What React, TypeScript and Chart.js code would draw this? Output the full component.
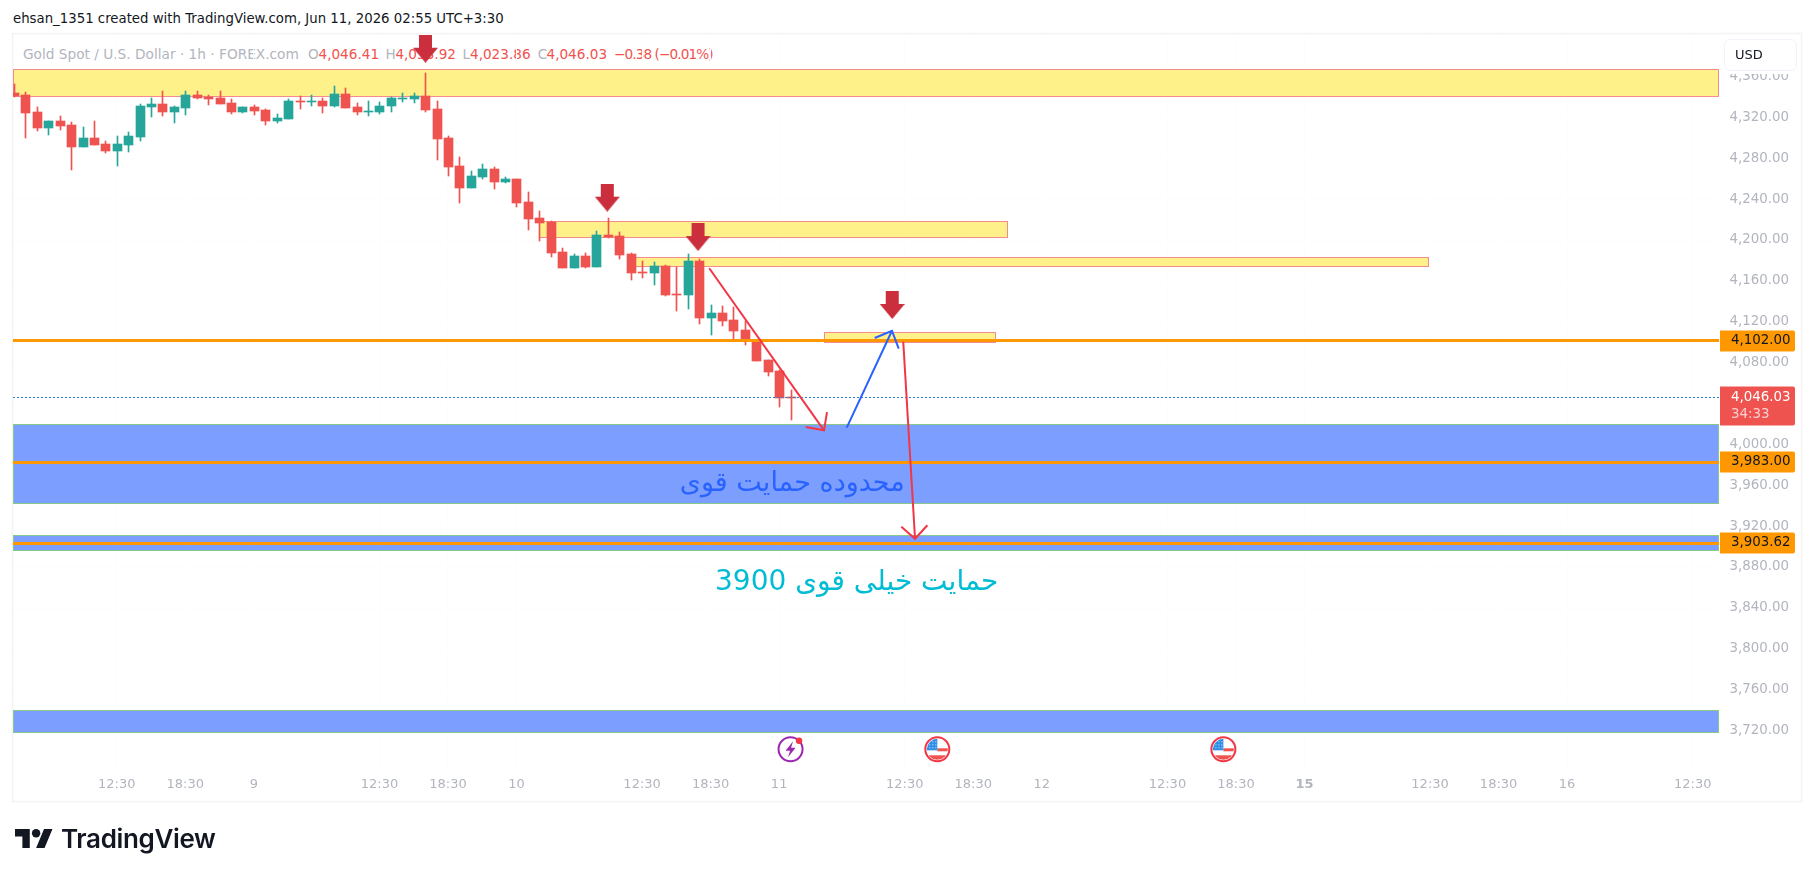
import React, { useEffect, useRef } from "react";
import { Chart, registerables } from "chart.js";

Chart.register(...registerables);

const UI_FONT = "'DejaVu Sans', sans-serif";

// candles: open, high, low, close (index = bar number, 1h)
const opens = [4344.4,4342.4,4325.8,4310.1,4317.0,4313.0,4291.5,4300.3,4294.5,4287.6,4293.5,4301.3,4330.7,4333.6,4325.8,4329.7,4342.4,4340.5,4339.5,4334.6,4325.8,4330.7,4327.7,4317.0,4318.9,4336.5,4335.6,4336.5,4331.6,4343.4,4330.7,4325.8,4325.8,4331.6,4338.5,4338.5,4341.4,4328.7,4300.3,4272.9,4251.4,4262.2,4270.0,4257.3,4260.2,4237.7,4222.0,4218.1,4188.8,4173.1,4184.8,4174.1,4205.4,4204.4,4186.8,4169.2,4168.2,4175.1,4147.6,4146.7,4179.9,4124.2,4129.1,4122.2,4112.4,4102.6,4083.1,4072.3,4046.41];
const highs = [4353.2,4345.4,4330.7,4317.0,4321.9,4316.0,4311.1,4317.0,4297.4,4302.3,4306.2,4333.6,4339.5,4346.3,4331.6,4346.3,4346.3,4342.4,4346.3,4338.5,4330.7,4332.6,4328.7,4323.8,4338.5,4341.4,4342.4,4339.5,4351.2,4349.3,4334.6,4336.5,4335.6,4340.5,4344.4,4344.4,4363.9,4336.5,4302.3,4281.7,4268.0,4274.9,4271.9,4262.2,4260.2,4247.5,4228.9,4219.1,4192.7,4186.8,4187.8,4209.3,4222.0,4208.3,4187.8,4179.9,4179.0,4176.0,4174.1,4186.8,4181.9,4136.9,4135.9,4134.9,4121.2,4102.6,4083.1,4073.3,4053.92];
const lows = [4340.1,4300.3,4307.2,4303.3,4308.2,4269.0,4291.5,4293.5,4285.6,4272.9,4286.6,4297.4,4320.9,4321.9,4315.0,4322.8,4338.5,4332.6,4333.6,4323.8,4324.8,4322.8,4313.0,4315.0,4318.9,4328.7,4331.6,4324.8,4330.7,4329.7,4322.8,4321.9,4323.8,4325.8,4335.6,4334.6,4325.8,4278.8,4263.1,4236.7,4251.4,4260.2,4250.4,4256.3,4232.8,4210.3,4199.5,4183.9,4173.1,4173.1,4173.1,4174.1,4202.5,4181.9,4161.4,4163.3,4156.5,4145.7,4131.0,4133.0,4118.3,4107.5,4116.3,4101.7,4097.7,4082.1,4067.4,4037.1,4023.86];
const closes = [4341.4,4324.8,4310.1,4317.0,4312.1,4291.5,4300.3,4293.5,4287.6,4294.5,4302.3,4331.6,4333.6,4325.8,4330.7,4342.4,4339.5,4338.5,4333.6,4325.8,4330.7,4326.8,4317.0,4319.9,4336.5,4335.6,4336.5,4331.6,4343.4,4329.7,4325.8,4326.8,4331.6,4339.5,4339.5,4341.4,4327.7,4299.3,4271.9,4251.4,4263.1,4270.0,4257.3,4260.2,4236.7,4221.1,4217.1,4187.8,4173.1,4184.8,4174.1,4205.4,4203.4,4185.8,4168.2,4168.2,4175.1,4146.7,4146.7,4179.9,4124.2,4129.1,4121.2,4111.4,4101.7,4082.1,4071.3,4045.9,4046.03];

// axes
const timeTickIndex = [9,15,21,32,38,44,55,61,67,78,84,90,101,107,113,124,130,136,147];
const timeTickLabels = ["12:30","18:30","9","12:30","18:30","10","12:30","18:30","11","12:30","18:30","12","12:30","18:30","15","12:30","18:30","16","12:30"];
const priceTicks = [3720,3760,3800,3840,3880,3920,3960,4000,4040,4080,4120,4160,4200,4240,4280,4320,4360];

// horizontal levels
const levelPrices = [4102, 3983, 3903.62];
const levelLabels = ["4,102.00", "3,983.00", "3,903.62"];
const lastPrice = 4046.03;
const lastPriceLabel = "4,046.03";
const countdownLabel = "34:33";

// drawn zones: [startIndex, endIndex, topPrice, bottomPrice]
const yellowZones = [
  [-0.09, 149.3, 4367.6, 4340.2],
  [45.97, 87.0, 4218.8, 4202.2],
  [54.4, 123.9, 4183.6, 4173.8],
  [70.95, 85.96, 4110.1, 4099.4],
];
const blueZones = [
  [-0.09, 149.3, 4020.1, 3942.1],
  [-0.09, 149.3, 3911.5, 3895.8],
  [-0.09, 149.3, 3740.2, 3718.3],
];

// drawn arrows: polylines as [index, price]
const redTrend = [[60.88,4172.8],[70.93,4014.2]];
const redTrendHead = [[69.33,4017.5],[70.93,4014.2],[71.19,4032.1]];
const blueRise = [[72.92,4016.8],[76.88,4111.7]];
const blueRiseHead = [[75.37,4104.6],[76.88,4111.7],[77.47,4094.1]];
const redDrop = [[77.87,4100.7],[78.9,3908.1]];
const redDropHead = [[77.7,3919.9],[78.9,3908.1],[79.98,3921.3]];

// big down markers, [index, price]
const downMarkers = [[36.03,4387.7],[51.95,4241.9],[59.9,4203.4],[76.9,4136.9]];

// event badges along the bottom
const earningsEvent = [68, 3702];
const usEvents = [[80.85,3702],[105.9,3702]];

// notes on the chart
const noteTexts = ["محدوده حمایت قوی", "حمایت خیلی قوی 3900"];
const noteRightIndex = [78.0, 86.2];
const notePrice = [3961.3, 3865];

const headerText = "ehsan_1351 created with TradingView.com, Jun 11, 2026 02:55 UTC+3:30";
const symbolText = "Gold Spot / U.S. Dollar · 1h · FOREX.com";
const ohlcLetters = ["O", "H", "L", "C"];
const ohlcValues = ["4,046.41", "4,053.92", "4,023.86", "4,046.03"];
const changeText = "−0.38 (−0.01%)";

const noteColors = ["#2962ff", "#00bcd4"];
const noteFontPx = [27, 28];
const RED = "#ef5350";
const TEAL = "#26a69a";
const ORANGE = "#ff9800";
const X_MIN = -1 / 11.42;
const X_MAX = X_MIN + 1706 / 11.42;

function pts(a: number[][]) {
  return a.map(([x, y]) => ({ x, y }));
}

function makeMarker() {
  const c = document.createElement("canvas");
  c.width = 25;
  c.height = 28;
  const g = c.getContext("2d")!;
  g.fillStyle = "#cb2e3c";
  g.beginPath();
  g.moveTo(6, 0);
  g.lineTo(19, 0);
  g.lineTo(19, 13);
  g.lineTo(25, 13);
  g.lineTo(12.5, 28);
  g.lineTo(0, 13);
  g.lineTo(6, 13);
  g.closePath();
  g.fill();
  return c;
}

const chromePlugin = {
  id: "chrome",
  afterDatasetsUpdate(chart: any) {
    chart.data.datasets.forEach((ds: any, i: number) => {
      const meta = chart.getDatasetMeta(i);
      if (ds.snap) {
        meta.data.forEach((el: any) => {
          el.y = Math.floor(el.y) + 0.5;
        });
      }
      if (ds.type !== "bar") return;
      meta.data.forEach((el: any) => {
        el.x = Math.round(el.x) + 0.5;
        const top = Math.round(el.y);
        let base = Math.round(el.base);
        if (base - top < 1) base = top + 1;
        el.y = top;
        el.base = base;
      });
    });
  },
  beforeDatasetsDraw(chart: any) {
    const { ctx, scales } = chart;
    const { x, y } = scales;
    const zone = (z: number[], fill: string, stroke: string) => {
      const l = Math.round(x.getPixelForValue(z[0]));
      const r = Math.round(x.getPixelForValue(z[1]));
      const t = Math.round(y.getPixelForValue(z[2]));
      const b = Math.round(y.getPixelForValue(z[3]));
      ctx.fillStyle = fill;
      ctx.fillRect(l, t, r - l, b - t);
      ctx.strokeStyle = stroke;
      ctx.lineWidth = 1;
      ctx.strokeRect(l + 0.5, t + 0.5, r - l - 1, b - t - 1);
    };
    ctx.save();
    ctx.strokeStyle = "#f3f3f4";
    ctx.lineWidth = 1.5;
    ctx.strokeRect(12.5, 33.5, 1789, 768);
    yellowZones.forEach((z) => zone(z, "#fff18a", "#f58a8f"));
    blueZones.forEach((z) => zone(z, "#7b9eff", "#86c98a"));
    ctx.restore();
  },
  afterDatasetsDraw(chart: any) {
    const { ctx, scales } = chart;
    const { x, y } = scales;
    ctx.save();
    // notes
    noteTexts.forEach((t, i) => {
      ctx.font = `${noteFontPx[i]}px ${UI_FONT}`;
      ctx.direction = "rtl";
      ctx.textAlign = "start";
      ctx.textBaseline = "middle";
      ctx.fillStyle = noteColors[i];
      ctx.fillText(t, x.getPixelForValue(noteRightIndex[i]), y.getPixelForValue(notePrice[i]));
    });
    ctx.direction = "ltr";
    // earnings badge
    const ex = x.getPixelForValue(earningsEvent[0]);
    const ey = y.getPixelForValue(earningsEvent[1]);
    ctx.lineWidth = 2;
    ctx.strokeStyle = "#9c27b0";
    ctx.fillStyle = "#fff";
    ctx.beginPath();
    ctx.arc(ex, ey, 12, 0, Math.PI * 2);
    ctx.fill();
    ctx.stroke();
    ctx.fillStyle = "#9c27b0";
    ctx.beginPath();
    ctx.moveTo(ex + 2.5, ey - 8);
    ctx.lineTo(ex - 5, ey + 1.5);
    ctx.lineTo(ex - 0.5, ey + 1.5);
    ctx.lineTo(ex - 2.5, ey + 8);
    ctx.lineTo(ex + 5, ey - 1.5);
    ctx.lineTo(ex + 0.5, ey - 1.5);
    ctx.closePath();
    ctx.fill();
    ctx.fillStyle = "#f23645";
    ctx.beginPath();
    ctx.arc(ex + 8.5, ey - 8.5, 3.2, 0, Math.PI * 2);
    ctx.fill();
    // US badges
    usEvents.forEach(([ix, p]) => {
      const cx = x.getPixelForValue(ix);
      const cy = y.getPixelForValue(p);
      ctx.save();
      ctx.beginPath();
      ctx.arc(cx, cy, 10.5, 0, Math.PI * 2);
      ctx.clip();
      ctx.fillStyle = "#fff";
      ctx.fillRect(cx - 12, cy - 12, 24, 24);
      ctx.fillStyle = "#ef5350";
      ctx.fillRect(cx, cy - 1, 12, 3);
      ctx.fillRect(cx - 12, cy + 6, 24, 6);
      ctx.fillStyle = "#2f8ee8";
      ctx.fillRect(cx - 12, cy - 12, 12, 13);
      ctx.fillStyle = "rgba(255,255,255,0.8)";
      for (let a = 0; a < 3; a++) {
        for (let b = 0; b < 3; b++) {
          ctx.fillRect(cx - 8 + a * 3, cy - 8 + b * 3, 1, 1);
        }
      }
      ctx.restore();
      ctx.strokeStyle = "#f23645";
      ctx.lineWidth = 2;
      ctx.beginPath();
      ctx.arc(cx, cy, 12, 0, Math.PI * 2);
      ctx.stroke();
    });
    // price tags
    const tag = (py: number, h: number, fill: string) => {
      ctx.fillStyle = fill;
      ctx.beginPath();
      ctx.roundRect(1720, py - h / 2, 75, h, [0, 2, 2, 0]);
      ctx.fill();
    };
    ctx.textAlign = "left";
    ctx.textBaseline = "middle";
    ctx.font = `13.4px ${UI_FONT}`;
    levelPrices.forEach((p, i) => {
      const py = Math.round(y.getPixelForValue(p));
      tag(py, 21, ORANGE);
      ctx.fillStyle = "#131722";
      ctx.fillText(levelLabels[i], 1731, py);
    });
    const ly = Math.round(y.getPixelForValue(lastPrice));
    tag(ly + 8, 39, RED);
    ctx.fillStyle = "#fff";
    ctx.fillText(lastPriceLabel, 1731, ly);
    ctx.fillStyle = "rgba(255,255,255,0.72)";
    ctx.fillText(countdownLabel, 1731, ly + 17);
    ctx.restore();
  },
};

function lineDs(data: any[], color: string, width: number, order: number, extra: any = {}) {
  return {
    type: "line",
    data,
    borderColor: color,
    borderWidth: width,
    pointRadius: 0,
    tension: 0,
    order,
    ...extra,
  };
}

export default function App() {
  const ref = useRef<HTMLCanvasElement>(null);

  useEffect(() => {
    const idx = opens.map((_, i) => i);
    const colors = idx.map((i) => (closes[i] >= opens[i] && i !== 68 ? TEAL : RED));
    const levelDs = levelPrices.map((p) =>
      lineDs([{ x: X_MIN, y: p }, { x: X_MAX, y: p }], ORANGE, 3, 2, { snap: true })
    );
    const lastLine = [{ x: X_MIN, y: lastPrice }, { x: X_MAX, y: lastPrice }];
    const chart = new Chart(ref.current!, {
      type: "bar",
      data: {
        datasets: [
          {
            type: "bar",
            label: "wicks",
            data: idx.map((i) => ({ x: i, y: [lows[i], highs[i]] })),
            backgroundColor: colors,
            barThickness: 1,
            grouped: false,
            order: 5,
          },
          {
            type: "bar",
            label: "bodies",
            data: idx.map((i) => ({ x: i, y: [opens[i], closes[i]] })),
            backgroundColor: colors,
            barThickness: 9,
            grouped: false,
            order: 4,
          },
          ...levelDs,
          lineDs(lastLine, "#2f7fd0", 1, 3, { borderDash: [2, 2], snap: true }),
          lineDs(pts(redTrend), "#f23645", 2, 1),
          lineDs(pts(redTrendHead), "#f23645", 2, 1),
          lineDs(pts(blueRise), "#2962ff", 2, 1),
          lineDs(pts(blueRiseHead), "#2962ff", 2, 1),
          lineDs(pts(redDrop), "#f23645", 2, 1),
          lineDs(pts(redDropHead), "#f23645", 2, 1),
          {
            type: "line",
            data: pts(downMarkers),
            showLine: false,
            pointStyle: makeMarker(),
            pointRadius: 8,
            clip: false,
            order: 0,
          },
        ] as any,
      },
      options: {
        responsive: false,
        animation: false,
        events: [],
        layout: { padding: { left: 13, top: 34, right: 13, bottom: 77 } },
        plugins: { legend: { display: false }, title: { display: false }, tooltip: { enabled: false } },
        scales: {
          x: {
            type: "linear",
            min: X_MIN,
            max: X_MAX,
            offset: false,
            afterFit: (s: any) => { s.height = 30; },
            afterBuildTicks: (s: any) => { s.ticks = timeTickIndex.map((value) => ({ value })); },
            border: { display: false },
            grid: { color: "#fdfdfd", drawTicks: false, offset: false },
            ticks: {
              autoSkip: false,
              maxRotation: 0,
              padding: 7,
              color: "#b2b5be",
              font: (c: any) => ({ family: UI_FONT, size: 13, weight: c.tick && c.tick.value === 113 ? "bold" : "normal" }),
              callback: (v: any) => timeTickLabels[timeTickIndex.indexOf(v)] ?? "",
            },
          },
          y: {
            type: "linear",
            position: "right",
            min: 3681.75,
            max: 4402.1,
            afterFit: (s: any) => { s.width = 82; },
            afterBuildTicks: (s: any) => { s.ticks = priceTicks.map((value) => ({ value })); },
            border: { display: false },
            grid: { color: "#fdfdfd", drawTicks: false },
            ticks: {
              padding: 10.5,
              labelOffset: -0.5,
              color: "#b2b5be",
              font: { family: UI_FONT, size: 13.4 },
              callback: (v: any) => Number(v).toLocaleString("en-US", { minimumFractionDigits: 2, maximumFractionDigits: 2 }),
            },
          },
        },
      } as any,
      plugins: [chromePlugin as any],
    });
    return () => chart.destroy();
  }, []);

  const abs = (s: React.CSSProperties): React.CSSProperties => ({
    position: "absolute",
    whiteSpace: "nowrap",
    fontFamily: UI_FONT,
    fontSize: 13.6,
    lineHeight: "16px",
    ...s,
  });
  const letterX = [308, 385.5, 462.6, 537.8];
  const valueX = [318.5, 395.4, 470, 546.5];

  return (
    <div style={{ position: "fixed", left: 0, top: 0, width: 1814, height: 877, background: "#fff", overflow: "hidden" }}>
      <div style={abs({ left: 13, top: 11, color: "#131722", fontSize: 13.3 })}>{headerText}</div>
      <div style={abs({ left: 23, top: 46, color: "#b2b5be", fontSize: 13.7 })}>{symbolText}</div>
      {ohlcLetters.map((l, i) => (
        <React.Fragment key={l}>
          <div style={abs({ left: letterX[i], top: 46, color: "#b2b5be" })}>{l}</div>
          <div style={abs({ left: valueX[i], top: 46, color: RED })}>{ohlcValues[i]}</div>
        </React.Fragment>
      ))}
      <div style={abs({ left: 614, top: 46, color: RED, letterSpacing: -0.9 })}>{changeText}</div>
      <canvas ref={ref} width={1814} height={877} style={{ position: "absolute", left: 0, top: 0, width: 1814, height: 877 }} />
      <div
        style={abs({
          left: 1724,
          top: 39,
          width: 73,
          height: 32,
          boxSizing: "border-box",
          border: "1px solid #f0f3fa",
          borderRadius: 6,
          background: "#fff",
          boxShadow: "0 3px 0 #fff",
          color: "#131722",
          fontSize: 13,
          padding: "7px 0 0 10px",
        })}
      >
        USD
      </div>
      <svg style={{ position: "absolute", left: 15, top: 829 }} width={38} height={19} viewBox="0 4 36 18">
        <path d="M14 22H7V11H0V4h14v18zM28 22h-8l7.5-18h8L28 22z" fill="#131722" />
        <circle cx={20} cy={8} r={4} fill="#131722" />
      </svg>
      <div style={abs({ left: 61, top: 824, color: "#131722", fontFamily: "Inter, sans-serif", fontWeight: 600, fontSize: 26, lineHeight: "30px", letterSpacing: -0.35 })}>
        TradingView
      </div>
    </div>
  );
}
